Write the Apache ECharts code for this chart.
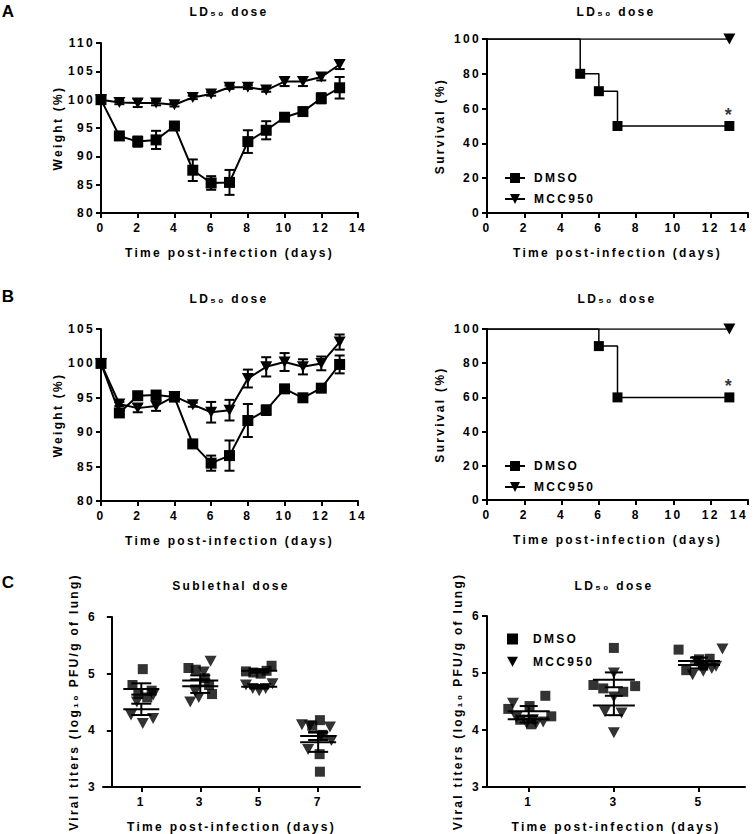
<!DOCTYPE html>
<html><head><meta charset="utf-8">
<script src="https://cdn.jsdelivr.net/npm/echarts@6/dist/echarts.min.js"></script>
<style>
html,body{margin:0;padding:0;background:#fff;}
#c{width:755px;height:834px;}
#c text{letter-spacing:2.3px;}
</style></head><body><div id="c"></div>
<script>
// ---------- DATA ----------
const days = [0,1,2,3,4,5,6,7,8,9,10,11,12,13];
const weightA_dmso    = [100,93.6,92.6,92.9,95.35,87.55,85.3,85.4,92.6,94.6,96.9,97.9,100.25,102.1];
const weightA_dmsoSem = [0,0.3,0.9,1.6,0.3,1.9,1.2,2.2,2.0,1.6,0.4,0.5,0.9,1.9];
const weightA_mcc     = [100,99.5,99.4,99.4,99.1,100.4,101,102.2,102.2,101.7,103.2,103.2,104,106.2];
const weightA_mccSem  = [0,0.3,0.7,0.4,0.3,0.3,0.3,0.3,0.3,0.3,0.8,0.8,0.6,0.8];

const weightB_dmso    = [100,92.8,95.3,95.4,95.1,88.3,85.5,86.6,91.7,93.2,96.3,95.0,96.4,99.85];
const weightB_dmsoSem = [0,0.3,0.3,0.3,0.3,0.3,1.1,2.2,2.4,0.7,0.3,0.3,0.3,1.3];
const weightB_mcc     = [100,94.1,93.5,93.8,95.2,94.0,92.9,93.2,97.8,99.5,100.2,99.5,100.0,103.1];
const weightB_mccSem  = [0,0.3,0.6,0.7,0.3,0.3,1.5,1.5,1.3,1.4,1.3,1.1,1.0,1.1];

const survA_dmsoDays = [0,5,6,7,13];
const survA_dmsoPct  = [100,80,70,50,50];
const survA_mccDays  = [0,13];
const survA_mccPct   = [100,100];
const survB_dmsoDays = [0,6,7,13];
const survB_dmsoPct  = [100,90,60,60];
const survB_mccDays  = [0,13];
const survB_mccPct   = [100,100];
const starA = [13,50];
const starB = [13,60];

const titerDaysLeft  = [1,3,5,7];
const titerDaysRight = [1,3,5];

const cLeftDmso = [[5.08,4.80,4.70,4.64,4.58],[5.10,5.07,4.92,4.80,4.64],[5.04,5.02,5.00,5.05,5.14],[4.18,4.08,3.92,3.58,3.27]];
const cLeftDmsoJit = [[0.05,-0.3,0.35,-0.1,0.2],[-0.4,-0.15,0.15,0.3,0.4],[-0.45,-0.2,0.05,0.25,0.42],[0.06,-0.2,0.15,0.05,0.06]];
const cLeftMcc = [[4.62,4.50,4.27,4.12,4.21],[5.22,5.03,4.68,4.58,4.50],[4.80,4.74,4.70,4.74,4.82],[4.10,4.08,4.06,3.90,3.82,3.66]];
const cLeftMccJit = [[0.4,-0.15,-0.35,0.05,0.4],[0.35,0.12,-0.17,-0.05,-0.34],[-0.45,-0.22,0.0,0.22,0.45],[-0.55,-0.28,0.4,0.1,0.45,-0.34]];
const cLeftDmsoMean = [4.73,4.88,5.05,3.79];
const cLeftDmsoSem  = [0.10,0.09,0.03,0.17];
const cLeftMccMean  = [4.37,4.78,4.77,3.90];
const cLeftMccSem   = [0.10,0.12,0.03,0.07];

const cRightDmso = [[4.37,4.42,4.60,4.24,4.18,4.10],[5.44,4.79,4.73,4.67,4.77],[5.41,5.05,5.24,5.25,5.13]];
const cRightDmsoJit = [[-0.48,0.02,0.39,0.53,-0.2,0.06],[0.0,-0.48,-0.25,0.22,0.5],[-0.48,-0.3,0.0,0.25,0.1]];
const cRightMcc = [[4.47,4.22,4.12,4.12,4.14,4.18],[5.0,4.58,4.32,4.30,3.95],[5.42,4.97,5.03,5.08,5.12,5.20]];
const cRightMccJit = [[-0.37,-0.29,-0.05,0.18,0.34,0.1],[0.0,0.0,-0.21,0.18,0.0],[0.55,-0.15,0.1,0.3,0.4,-0.05]];
const cRightDmsoMean = [4.33,4.88,5.21];
const cRightDmsoSem  = [0.09,0.13,0.06];
const cRightMccMean  = [4.19,4.43,5.14];
const cRightMccSem   = [0.06,0.17,0.06];

// ---------- STYLE / BUILD ----------
const FF = '"Liberation Sans", Arial, sans-serif';
const txt = {fontFamily: FF, fontWeight: 'bold', fontSize: 12, color: '#000'};
const axLine = {show: true, lineStyle: {color: '#000', width: 2}};
const axTick = {show: true, inside: false, length: 5, lineStyle: {color: '#000', width: 2}};

const grids = [
  {left: 101, top: 43, width: 257, height: 170},
  {left: 487, top: 39, width: 261, height: 174},
  {left: 101, top: 329, width: 257, height: 172},
  {left: 487, top: 329, width: 261, height: 171},
  {left: 103, top: 617, width: 257, height: 170},
  {left: 487, top: 616, width: 258, height: 171}
].map(g => Object.assign({outerBoundsMode: 'none', containLabel: false}, g));

function xAx(gi, min, max, interval, extra) {
  return Object.assign({
    type: 'value', gridIndex: gi, min, max, interval,
    name: 'Time post-infection (days)', nameLocation: 'middle', nameGap: 34,
    nameTextStyle: txt, axisLine: axLine, axisTick: axTick,
    axisLabel: Object.assign({margin: 9}, txt), splitLine: {show: false}
  }, extra || {});
}
function yAx(gi, min, max, interval, name, gap) {
  return {
    type: 'value', gridIndex: gi, min, max, interval,
    name, nameLocation: 'middle', nameGap: gap, nameTextStyle: txt,
    axisLine: axLine, axisTick: axTick,
    axisLabel: Object.assign({margin: 6}, txt), splitLine: {show: false}
  };
}
const survXLabel = Object.assign({margin: 9, alignMaxLabel: 'right'}, txt);

const xAxis = [
  xAx(0, 0, 14, 2), xAx(1, 0, 14, 2, {axisLabel: survXLabel}),
  xAx(2, 0, 14, 2), xAx(3, 0, 14, 2, {axisLabel: survXLabel}),
  xAx(4, -0.3, 8.42, 1, {axisLabel: Object.assign({margin: 9, customValues: titerDaysLeft}, txt), axisTick: Object.assign({customValues: titerDaysLeft}, axTick)}),
  xAx(5, 0.02, 6.08, 1, {axisLabel: Object.assign({margin: 9, customValues: titerDaysRight}, txt), axisTick: Object.assign({customValues: titerDaysRight}, axTick)})
];
const yAxis = [
  yAx(0, 80, 110, 5, 'Weight (%)', 37),
  yAx(1, 0, 100, 20, 'Survival (%)', 41),
  yAx(2, 80, 105, 5, 'Weight (%)', 37),
  yAx(3, 0, 100, 20, 'Survival (%)', 41),
  yAx(4, 3, 6, 1, 'Viral titers (log₁₀ PFU/g of lung)', 23),
  yAx(5, 3, 6, 1, 'Viral titers (log₁₀ PFU/g of lung)', 23)
];

function errBar(params, api) {
  const x = api.value(0), y = api.value(1), e = api.value(2);
  if (!e) return null;
  const p1 = api.coord([x, y + e]), p2 = api.coord([x, y - e]);
  const hw = 5, st = {stroke: '#000', lineWidth: 2};
  return {type: 'group', children: [
    {type: 'line', shape: {x1: p1[0], y1: p1[1], x2: p2[0], y2: p2[1]}, style: st},
    {type: 'line', shape: {x1: p1[0]-hw, y1: p1[1], x2: p1[0]+hw, y2: p1[1]}, style: st},
    {type: 'line', shape: {x1: p2[0]-hw, y1: p2[1], x2: p2[0]+hw, y2: p2[1]}, style: st}
  ]};
}
function meanSem(hwMean, hwCap) {
  return function (params, api) {
    const x = api.value(0), m = api.value(1), e = api.value(2);
    const pm = api.coord([x, m]), p1 = api.coord([x, m + e]), p2 = api.coord([x, m - e]);
    const st = {stroke: '#000', lineWidth: 2};
    return {type: 'group', children: [
      {type: 'line', shape: {x1: pm[0]-hwMean, y1: pm[1], x2: pm[0]+hwMean, y2: pm[1]}, style: st},
      {type: 'line', shape: {x1: p1[0], y1: p1[1], x2: p2[0], y2: p2[1]}, style: st},
      {type: 'line', shape: {x1: p1[0]-hwCap, y1: p1[1], x2: p1[0]+hwCap, y2: p1[1]}, style: st},
      {type: 'line', shape: {x1: p2[0]-hwCap, y1: p2[1], x2: p2[0]+hwCap, y2: p2[1]}, style: st}
    ]};
  };
}

const SQ = {symbol: 'rect'};
const TRI = {symbol: 'triangle', symbolRotate: 180};
const blk = {color: '#000'};

function survLine(gi, name, xs, ys, sym, size) {
  return Object.assign({
    type: 'line', name, xAxisIndex: gi, yAxisIndex: gi, step: 'end',
    symbolSize: size, itemStyle: blk, lineStyle: {color: '#000', width: 1.5},
    data: xs.map((d, i) => i === 0 ? {value: [d, ys[i]], symbol: 'none'} : [d, ys[i]]),
    z: 3
  }, sym);
}
function weightLine(gi, name, vals, sym, size) {
  return Object.assign({
    type: 'line', name, xAxisIndex: gi, yAxisIndex: gi, symbolSize: size,
    itemStyle: blk, lineStyle: {color: '#000', width: 2},
    data: days.map((d, i) => [d, vals[i]]), z: 3
  }, sym);
}
function weightErr(gi, vals, sems) {
  return {type: 'custom', xAxisIndex: gi, yAxisIndex: gi, renderItem: errBar, z: 2,
    data: days.map((d, i) => [d, vals[i], sems[i]])};
}
function star(gi, pt) {
  return {type: 'scatter', xAxisIndex: gi, yAxisIndex: gi, symbolSize: 0, silent: true,
    data: [pt], label: {show: true, position: 'top', distance: 2, formatter: '*',
    fontFamily: FF, fontWeight: 'bold', fontSize: 18, color: '#000'}};
}
function titerScatter(gi, name, daysArr, vals, jit, sym, size) {
  const data = [];
  daysArr.forEach((d, k) => vals[k].forEach((v, i) => data.push([d + jit[k][i], v])));
  return Object.assign({type: 'scatter', name, xAxisIndex: gi, yAxisIndex: gi,
    symbolSize: size, itemStyle: blk, data, z: 3}, sym);
}
function titerMean(gi, daysArr, means, sems, hwM, hwC) {
  return {type: 'custom', xAxisIndex: gi, yAxisIndex: gi, renderItem: meanSem(hwM, hwC), z: 4,
    data: daysArr.map((d, k) => [d, means[k], sems[k]])};
}

const series = [
  survLine(1, 'DMSO', survA_dmsoDays, survA_dmsoPct, SQ, 10),
  survLine(1, 'MCC950', survA_mccDays, survA_mccPct, TRI, [12, 11]),
  survLine(3, 'DMSO', survB_dmsoDays, survB_dmsoPct, SQ, 10),
  survLine(3, 'MCC950', survB_mccDays, survB_mccPct, TRI, [12, 11]),
  star(1, starA), star(3, starB),
  weightErr(0, weightA_dmso, weightA_dmsoSem),
  weightErr(0, weightA_mcc, weightA_mccSem),
  weightLine(0, 'DMSO', weightA_dmso, SQ, 11),
  weightLine(0, 'MCC950', weightA_mcc, TRI, [12, 11]),
  weightErr(2, weightB_dmso, weightB_dmsoSem),
  weightErr(2, weightB_mcc, weightB_mccSem),
  weightLine(2, 'DMSO', weightB_dmso, SQ, 11),
  weightLine(2, 'MCC950', weightB_mcc, TRI, [12, 11]),
  titerScatter(4, 'DMSO', titerDaysLeft, cLeftDmso, cLeftDmsoJit, SQ, 10),
  titerScatter(4, 'MCC950', titerDaysLeft, cLeftMcc, cLeftMccJit, TRI, [12, 11]),
  titerMean(4, titerDaysLeft, cLeftDmsoMean, cLeftDmsoSem, 18, 10),
  titerMean(4, titerDaysLeft, cLeftMccMean, cLeftMccSem, 18, 10),
  titerScatter(5, 'DMSO', titerDaysRight, cRightDmso, cRightDmsoJit, SQ, 10),
  titerScatter(5, 'MCC950', titerDaysRight, cRightMcc, cRightMccJit, TRI, [12, 11]),
  titerMean(5, titerDaysRight, cRightDmsoMean, cRightDmsoSem, 21, 9),
  titerMean(5, titerDaysRight, cRightMccMean, cRightMccSem, 21, 9)
];

const legTxt = Object.assign({padding: [0, 0, 0, 4]}, txt);
const legend = [
  {left: 499, top: 167, orient: 'vertical', itemWidth: 20, itemHeight: 12.5, itemGap: 9,
   selectedMode: false, data: ['DMSO', 'MCC950'], textStyle: legTxt},
  {left: 499, top: 455, orient: 'vertical', itemWidth: 20, itemHeight: 12.5, itemGap: 9,
   selectedMode: false, data: ['DMSO', 'MCC950'], textStyle: legTxt},
  {left: 502, top: 628, orient: 'vertical', itemWidth: 11, itemHeight: 11, itemGap: 10.7,
   selectedMode: false, textStyle: Object.assign({}, txt, {padding: [0, 0, 0, 10]}),
   data: [{name: 'DMSO', icon: 'rect'}, {name: 'MCC950', icon: 'path://M0,0L12,0L6,11Z'}]}
];

function gtext(x, y, text, size) {
  const font = 'bold ' + size + 'px ' + FF;
  return {type: 'text', x, y, silent: true,
    style: {text, font, fill: '#000', textAlign: 'center', textVerticalAlign: 'middle', align: 'center', verticalAlign: 'middle'}};
}
const graphic = [
  gtext(9, 11, 'A', 17), gtext(9, 296, 'B', 17), gtext(9, 582, 'C', 17),
  gtext(229, 12, 'LD₅₀ dose', 12), gtext(616, 12, 'LD₅₀ dose', 12),
  gtext(229, 299, 'LD₅₀ dose', 12), gtext(617, 299, 'LD₅₀ dose', 12),
  gtext(231, 586, 'Sublethal dose', 12), gtext(614, 586, 'LD₅₀ dose', 12)
];

const chart = echarts.init(document.getElementById('c'), null, {renderer: 'svg'});
chart.setOption({animation: false, backgroundColor: '#fff', grid: grids, xAxis, yAxis, series, legend, graphic});
</script></body></html>
